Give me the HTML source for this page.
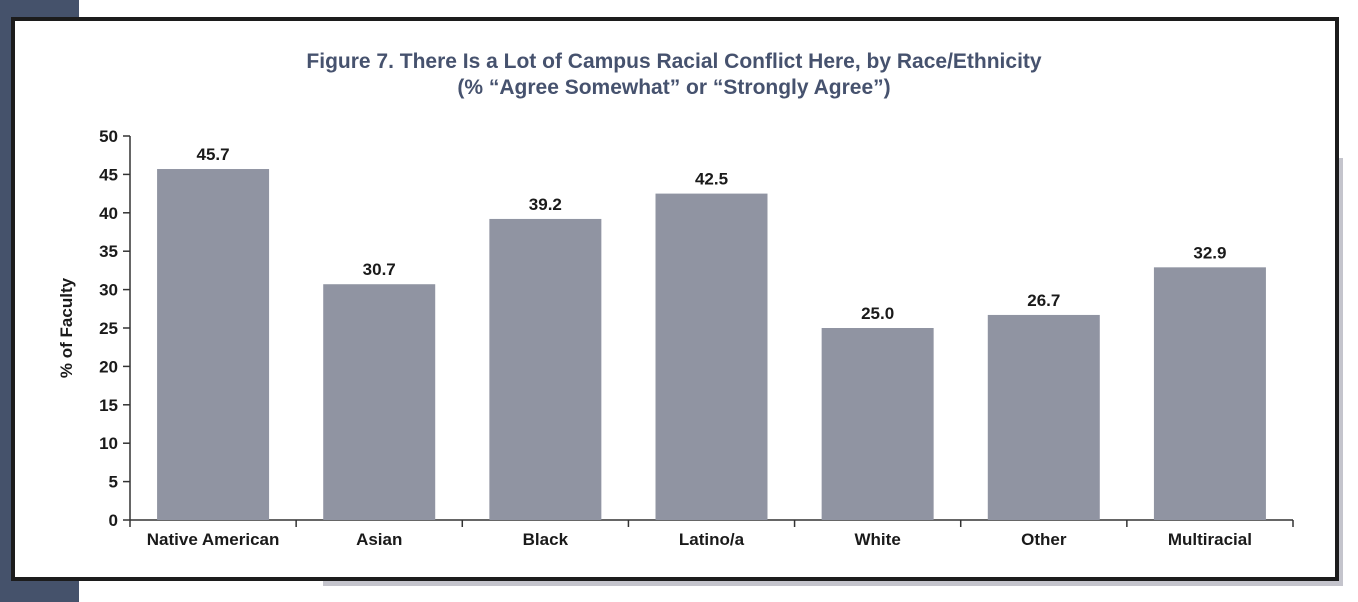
<!DOCTYPE html>
<html><head><meta charset="utf-8"><style>
body{margin:0;width:1358px;height:602px;overflow:hidden;background:#fff;font-family:"Liberation Sans",sans-serif;position:relative}
</style></head><body>
<div style="position:absolute;left:0;top:0;width:79px;height:602px;background:#45526b"></div>
<div style="position:absolute;left:323px;top:158px;width:1020px;height:428px;background:#c4c4cc"></div>
<div style="position:absolute;left:11px;top:17px;width:1320px;height:556px;border:4px solid #1c1c1c;background:#fff"></div>
<svg id="chart" width="1358" height="602" style="position:absolute;left:0;top:0">
<text x="674" y="68" text-anchor="middle" font-size="21" font-weight="bold" fill="#46526e">Figure 7. There Is a Lot of Campus Racial Conflict Here, by Race/Ethnicity</text>
<text x="674" y="94" text-anchor="middle" font-size="21" font-weight="bold" fill="#46526e">(% “Agree Somewhat” or “Strongly Agree”)</text>
<text transform="translate(72,328) rotate(-90)" text-anchor="middle" font-size="17" font-weight="bold" fill="#1a1a1a">% of Faculty</text>
</svg>
<script>
const categories=["Native American","Asian","Black","Latino/a","White","Other","Multiracial"];
const values=[45.7,30.7,39.2,42.5,25.0,26.7,32.9];
const valueLabels=["45.7","30.7","39.2","42.5","25.0","26.7","32.9"];
const yTicks=[0,5,10,15,20,25,30,35,40,45,50];
const svg=document.getElementById('chart');const NS='http://www.w3.org/2000/svg';
const x0=130,x1=1293,yb=520,yt=136,ymax=50;
const bw=(x1-x0)/categories.length;
const y=v=>yb-(v/ymax)*(yb-yt);
function mk(t,a){const e=document.createElementNS(NS,t);for(const k in a)e.setAttribute(k,a[k]);svg.appendChild(e);return e;}
let ax=mk('line',{x1:x0,y1:yt,x2:x0,y2:yb,stroke:'#333','stroke-width':1.5});


let xa=mk('line',{x1:x0,y1:yb,x2:x1,y2:yb,stroke:'#333','stroke-width':1.5});


yTicks.forEach(v=>{
 const tk=mk('line',{x1:x0-7,y1:y(v),x2:x0,y2:y(v),stroke:'#333','stroke-width':1.5});
 
 
 const t=mk('text',{x:x0-12,y:y(v)+6,'text-anchor':'end','font-size':17,'font-weight':'bold',fill:'#1a1a1a'});
 t.textContent=v;
 
 
});
for(let i=0;i<=categories.length;i++){
 const tk=mk('line',{x1:x0+i*bw,y1:yb,x2:x0+i*bw,y2:yb+7,stroke:'#333','stroke-width':1.5});
 
 
}
categories.forEach((c,i)=>{
 const cx=x0+(i+0.5)*bw,w=112;
 const r=mk('rect',{x:cx-w/2,y:y(values[i]),width:w,height:yb-y(values[i]),fill:'#9094a2'});
 
 
 const vl=mk('text',{x:cx,y:y(values[i])-9,'text-anchor':'middle','font-size':17,'font-weight':'bold',fill:'#1a1a1a'});
 vl.textContent=valueLabels[i];
 
 
 const cl=mk('text',{x:cx,y:545,'text-anchor':'middle','font-size':17,'font-weight':'bold',fill:'#1a1a1a'});
 cl.textContent=c;
 
 
});
</script>
</body></html>
